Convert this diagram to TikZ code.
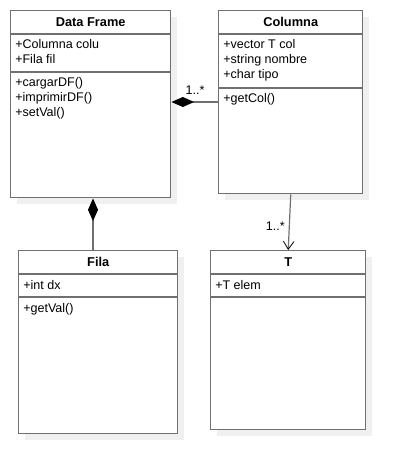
\documentclass[tikz,border=0pt]{standalone}
\usepackage{fontspec}
\setmainfont{Liberation Sans}
\usepackage{xcolor}
\usetikzlibrary{calc}
\usetikzlibrary{positioning}
\usetikzlibrary{arrows.meta}
\usetikzlibrary{shadows}
\definecolor{umlgray}{HTML}{707070}
\definecolor{shadowgray}{HTML}{F0F0F0}
\tikzset{
thickness/.style={line width=1.1pt},
klass/.style={draw=umlgray, thickness, fill=white, anchor=north west, inner sep=0pt,
	drop shadow={shadow xshift=4.5pt, shadow yshift=-4.5pt, fill=shadowgray, opacity=1}},
klassline/.style={draw=umlgray, thickness},
title/.style={font=\fontsize{9.6}{11}\selectfont\bfseries, inner sep=0pt},
members/.style={font=\fontsize{9.4}{11.25}\selectfont, align=left, anchor=base west, inner sep=0pt},
comp/.style={draw=umlgray, line width=0.9pt, -{Diamond[length=17pt, width=7.5pt, fill=black, color=black]}},
assoc/.style={draw=umlgray, line width=0.9pt, -{Straight Barb[length=6pt, width=8pt, color=black, line width=0.6pt]}},
mult/.style={font=\fontsize{9.4}{11}\selectfont, inner sep=1pt},
}

\begin{document}
\begin{tikzpicture}[x=0.75pt, y=0.75pt]
\useasboundingbox (0,0) rectangle (404,-474);
%Place the class boxes
\node[klass, minimum width=120pt, minimum height=140.25pt] (df) at (10,-10) {};
\node[klass, minimum width=108pt, minimum height=137.25pt] (col) at (218,-10) {};
\node[klass, minimum width=119.25pt, minimum height=137.25pt] (fila) at (18,-250) {};
\node[klass, minimum width=116.25pt, minimum height=134.25pt] (t) at (210,-250) {};

%Compartments
\foreach \c/\a in {df/62, col/78, fila/47, t/47} {
	\draw[klassline] ($(\c.north west)+(0,-24)$) -- ($(\c.north east)+(0,-24)$);
	\draw[klassline] ($(\c.north west)+(0,-\a)$) -- ($(\c.north east)+(0,-\a)$);
}

%Titles
\node[title] (dftitle) at ($(df.north)+(0,-12)$) {Data Frame};
\node[title] (coltitle) at ($(col.north)+(0,-12)$) {Columna};
\node[title] (filatitle) at ($(fila.north)+(0,-12)$) {Fila};
\node[title] (ttitle) at ($(t.north)+(0,-12)$) {T};

%Attributes and methods (anchored at the baseline of the last line)
\node[members] (dfattr) at ($(df.north west)+(5,-54)$) {+Columna colu\\+Fila fil};
\node[members] (dfmeth) at ($(df.north west)+(5,-107)$) {+cargarDF()\\+imprimirDF()\\+setVal()};
\node[members] (colattr) at ($(col.north west)+(5,-69)$) {+vector T col\\+string nombre\\+char tipo};
\node[members] (colmeth) at ($(col.north west)+(5,-93)$) {+getCol()};
\node[members] (filaattr) at ($(fila.north west)+(5,-39)$) {+int dx};
\node[members] (filameth) at ($(fila.north west)+(5,-62)$) {+getVal()};
\node[members] (tattr) at ($(t.north west)+(5,-39)$) {+T elem};

%Connectors
\coordinate (colL) at ($(col.north west)+(0,-92)$);
\coordinate (filaT) at ($(fila.north west)+(75,0)$);
\draw[comp] (colL) to (colL -| df.east);
\draw[comp] (filaT) to (filaT |- df.south);
\draw[assoc] (col.south) to (t.north);

\node[mult] (m1) at ($(colL)+(-23,12)$) {1..*};
\node[mult] (m2) at ($(t.north)+(-13,24)$) {1..*};

\end{tikzpicture}
\end{document}
